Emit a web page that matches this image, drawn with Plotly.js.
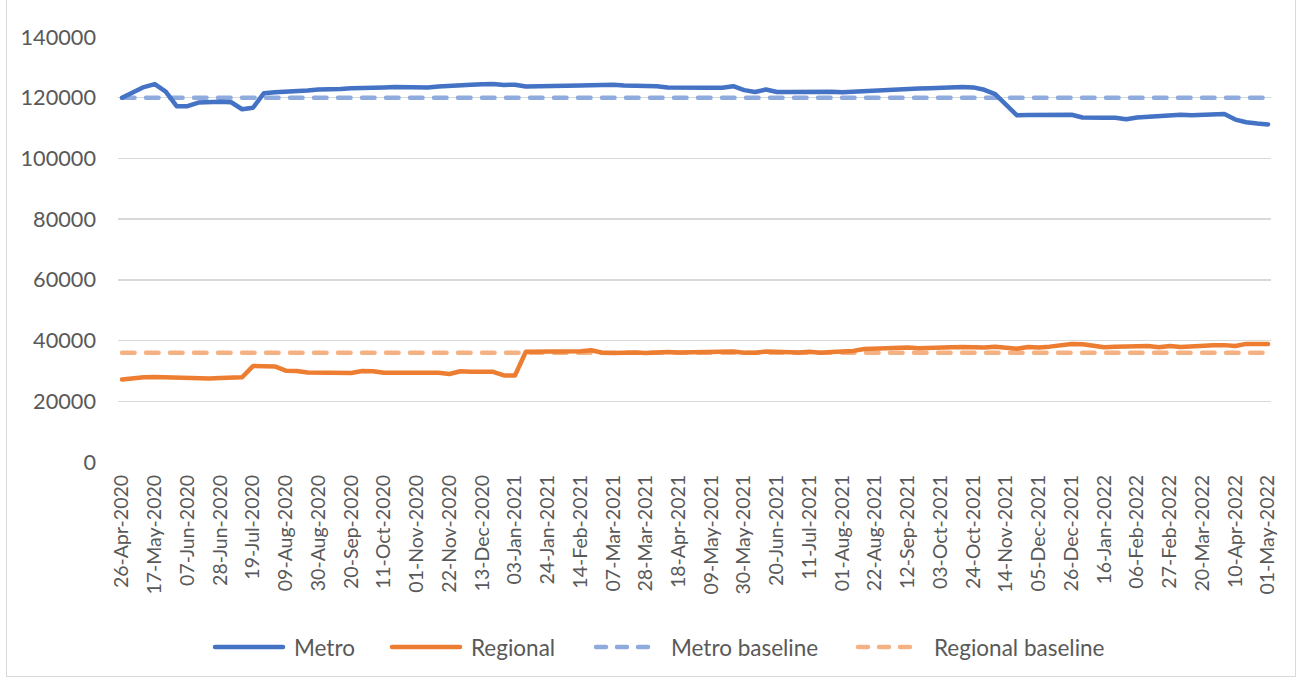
<!DOCTYPE html>
<html>
<head>
<meta charset="utf-8">
<script src="https://cdn.plot.ly/plotly-3.0.1.min.js"></script>
<style>
  html, body { margin: 0; padding: 0; background: #ffffff; }
  #wrap { position: relative; width: 1301px; height: 682px; overflow: hidden; }
  #chart { position: absolute; left: 0; top: 0; width: 1301px; height: 682px; }
  #frame { position: absolute; left: 6px; top: -1px; width: 1290px; height: 678px;
           border: 1px solid #d9d9d9; pointer-events: none; box-sizing: border-box; }
  path.js-line { stroke-linecap: round !important; stroke-linejoin: round !important; }
  .shapelayer path { stroke-linecap: round !important; }
</style>
</head>
<body>
<div id="wrap"><div id="chart"></div><div id="frame"></div></div>
<script>
const weeks = [
  "26-Apr-2020","03-May-2020","10-May-2020","17-May-2020","24-May-2020","31-May-2020",
  "07-Jun-2020","14-Jun-2020","21-Jun-2020","28-Jun-2020","05-Jul-2020","12-Jul-2020",
  "19-Jul-2020","26-Jul-2020","02-Aug-2020","09-Aug-2020","16-Aug-2020","23-Aug-2020",
  "30-Aug-2020","06-Sep-2020","13-Sep-2020","20-Sep-2020","27-Sep-2020","04-Oct-2020",
  "11-Oct-2020","18-Oct-2020","25-Oct-2020","01-Nov-2020","08-Nov-2020","15-Nov-2020",
  "22-Nov-2020","29-Nov-2020","06-Dec-2020","13-Dec-2020","20-Dec-2020","27-Dec-2020",
  "03-Jan-2021","10-Jan-2021","17-Jan-2021","24-Jan-2021","31-Jan-2021","07-Feb-2021",
  "14-Feb-2021","21-Feb-2021","28-Feb-2021","07-Mar-2021","14-Mar-2021","21-Mar-2021",
  "28-Mar-2021","04-Apr-2021","11-Apr-2021","18-Apr-2021","25-Apr-2021","02-May-2021",
  "09-May-2021","16-May-2021","23-May-2021","30-May-2021","06-Jun-2021","13-Jun-2021",
  "20-Jun-2021","27-Jun-2021","04-Jul-2021","11-Jul-2021","18-Jul-2021","25-Jul-2021",
  "01-Aug-2021","08-Aug-2021","15-Aug-2021","22-Aug-2021","29-Aug-2021","05-Sep-2021",
  "12-Sep-2021","19-Sep-2021","26-Sep-2021","03-Oct-2021","10-Oct-2021","17-Oct-2021",
  "24-Oct-2021","31-Oct-2021","07-Nov-2021","14-Nov-2021","21-Nov-2021","28-Nov-2021",
  "05-Dec-2021","12-Dec-2021","19-Dec-2021","26-Dec-2021","02-Jan-2022","09-Jan-2022",
  "16-Jan-2022","23-Jan-2022","30-Jan-2022","06-Feb-2022","13-Feb-2022","20-Feb-2022",
  "27-Feb-2022","06-Mar-2022","13-Mar-2022","20-Mar-2022","27-Mar-2022","03-Apr-2022",
  "10-Apr-2022","17-Apr-2022","24-Apr-2022","01-May-2022"
];

const tickLabels = [
  "26-Apr-2020","17-May-2020","07-Jun-2020","28-Jun-2020","19-Jul-2020","09-Aug-2020",
  "30-Aug-2020","20-Sep-2020","11-Oct-2020","01-Nov-2020","22-Nov-2020","13-Dec-2020",
  "03-Jan-2021","24-Jan-2021","14-Feb-2021","07-Mar-2021","28-Mar-2021","18-Apr-2021",
  "09-May-2021","30-May-2021","20-Jun-2021","11-Jul-2021","01-Aug-2021","22-Aug-2021",
  "12-Sep-2021","03-Oct-2021","24-Oct-2021","14-Nov-2021","05-Dec-2021","26-Dec-2021",
  "16-Jan-2022","06-Feb-2022","27-Feb-2022","20-Mar-2022","10-Apr-2022","01-May-2022"
];

const yTicks = [0, 20000, 40000, 60000, 80000, 100000, 120000, 140000];

const metro = [
  120000,121800,123500,124500,122000,117200,117200,118400,118700,118700,
  118500,116200,116700,121500,121800,121900,122200,122400,122700,122700,
  122900,123100,123300,123400,123400,123500,123500,123300,123400,123700,
  124000,124200,124300,124400,124500,124200,124300,123700,123700,123800,
  123700,123900,124000,124100,124200,124300,124000,124000,123900,123800,
  123400,123300,123300,123300,123300,123300,123800,122500,121900,122700,
  121900,121900,122000,121900,122200,122000,121800,122000,122300,122500,
  122600,122800,122900,123000,123100,123300,123500,123500,123400,122600,
  121200,117800,114200,114300,114400,114400,114300,114400,113500,113300,
  113400,113400,112900,113500,113700,113900,114200,114400,114200,114300,
  114500,114600,112800,111900,111500,111200
];

const regional = [
  27200,27600,27900,28000,27900,27700,27500,27400,27500,27700,
  27900,27900,31600,31600,31500,30100,30000,29500,29400,29400,
  29400,29300,30000,29900,29400,29500,29300,29400,29400,29400,
  29000,29900,29700,29600,29700,28500,28500,36300,36300,36200,
  36300,36400,36500,36800,36000,35900,36100,36100,35900,36100,
  36200,36100,36200,36000,36200,36300,36400,36000,36000,36400,
  36200,36000,36100,36300,36000,36200,36300,36600,37200,37300,
  37700,37500,37700,37500,37700,37800,37800,37900,37800,37700,
  38000,37800,37300,37900,37700,38000,38500,38900,38800,38300,
  37800,38000,38000,38300,38200,37800,38200,37900,38200,38300,
  38500,38500,38200,38900,39000,38900
];

const metroBaselineValue = 120000;
const regionalBaselineValue = 36000;
const metroBaseline = weeks.map(() => metroBaselineValue);
const regionalBaseline = weeks.map(() => regionalBaselineValue);

const seriesNames = ["Metro", "Regional", "Metro baseline", "Regional baseline"];
const seriesColors = ["#4472c4", "#ed7d31", "#8faadc", "#f4b183"];
const seriesDash = ["solid", "solid", "12.5px,11.5px", "12.5px,11.5px"];

const FONT = "Lato, 'Open Sans', sans-serif";
const GREY = "#595959";

const traces = [
  { x: weeks, y: metroBaseline, name: seriesNames[2], type: "scatter", mode: "lines",
    line: { color: seriesColors[2], width: 4.5, dash: seriesDash[2] } },
  { x: weeks, y: regionalBaseline, name: seriesNames[3], type: "scatter", mode: "lines",
    line: { color: seriesColors[3], width: 4.5, dash: seriesDash[3] } },
  { x: weeks, y: metro, name: seriesNames[0], type: "scatter", mode: "lines",
    line: { color: seriesColors[0], width: 4.5 } },
  { x: weeks, y: regional, name: seriesNames[1], type: "scatter", mode: "lines",
    line: { color: seriesColors[1], width: 4.5 } }
];

// Plot area in pixels (for the hand-built legend below the axis)
const plotL = 118, plotR = 1271, plotT = 37, plotB = 462;
const px2x = p => (p - plotL) / (plotR - plotL);
const px2y = p => (plotB - p) / (plotB - plotT);
const legendY = 647;
// legend layout: [symbol start, symbol end, text start] in px
const legendPos = [[213, 285, 292], [390, 462, 469], [594, 654, 669], [856, 918, 932]];

const shapes = [], annotations = [];
seriesNames.forEach((name, i) => {
  const [s0, s1, t0] = legendPos[i];
  shapes.push({
    type: "line", xref: "paper", yref: "paper",
    x0: px2x(s0 + 2), x1: px2x(s1 - 2), y0: px2y(legendY), y1: px2y(legendY),
    line: { color: seriesColors[i], width: 4.5, dash: i < 2 ? "solid" : "10px,11px" }
  });
  annotations.push({
    xref: "paper", yref: "paper", x: px2x(t0), y: px2y(legendY),
    xanchor: "left", yanchor: "middle", showarrow: false, text: name,
    font: { family: FONT, size: 22.5, color: GREY }
  });
});

const layout = {
  width: 1301, height: 682,
  margin: { l: plotL, r: 1301 - plotR, t: plotT, b: 682 - plotB },
  paper_bgcolor: "#ffffff", plot_bgcolor: "#ffffff",
  font: { family: FONT, color: GREY, size: 20 },
  showlegend: false,
  shapes: shapes,
  annotations: annotations,
  xaxis: {
    type: "category",
    range: [-0.37, 105.27],
    tickmode: "array", tickvals: tickLabels, ticktext: tickLabels,
    tickangle: -90,
    tickfont: { family: FONT, size: 19.5, color: GREY },
    showgrid: false, zeroline: false, showline: false,
    ticks: "", ticklabelstandoff: 8,
    fixedrange: true
  },
  yaxis: {
    range: [0, 140000],
    tickmode: "array",
    tickvals: yTicks,
    ticktext: yTicks.map(String),
    tickfont: { family: FONT, size: 21.7, color: GREY },
    showgrid: true, gridcolor: "#d9d9d9", gridwidth: 1.3,
    zeroline: false, showline: false, ticks: "", ticklabelstandoff: 21,
    fixedrange: true
  }
};

Plotly.newPlot("chart", traces, layout, { displayModeBar: false, staticPlot: true }).then(() => {
  document.querySelectorAll("#chart path.js-line, #chart .shapelayer path").forEach(p => {
    p.style.strokeLinecap = "round";
    p.style.strokeLinejoin = "round";
  });
});
</script>
</body>
</html>
